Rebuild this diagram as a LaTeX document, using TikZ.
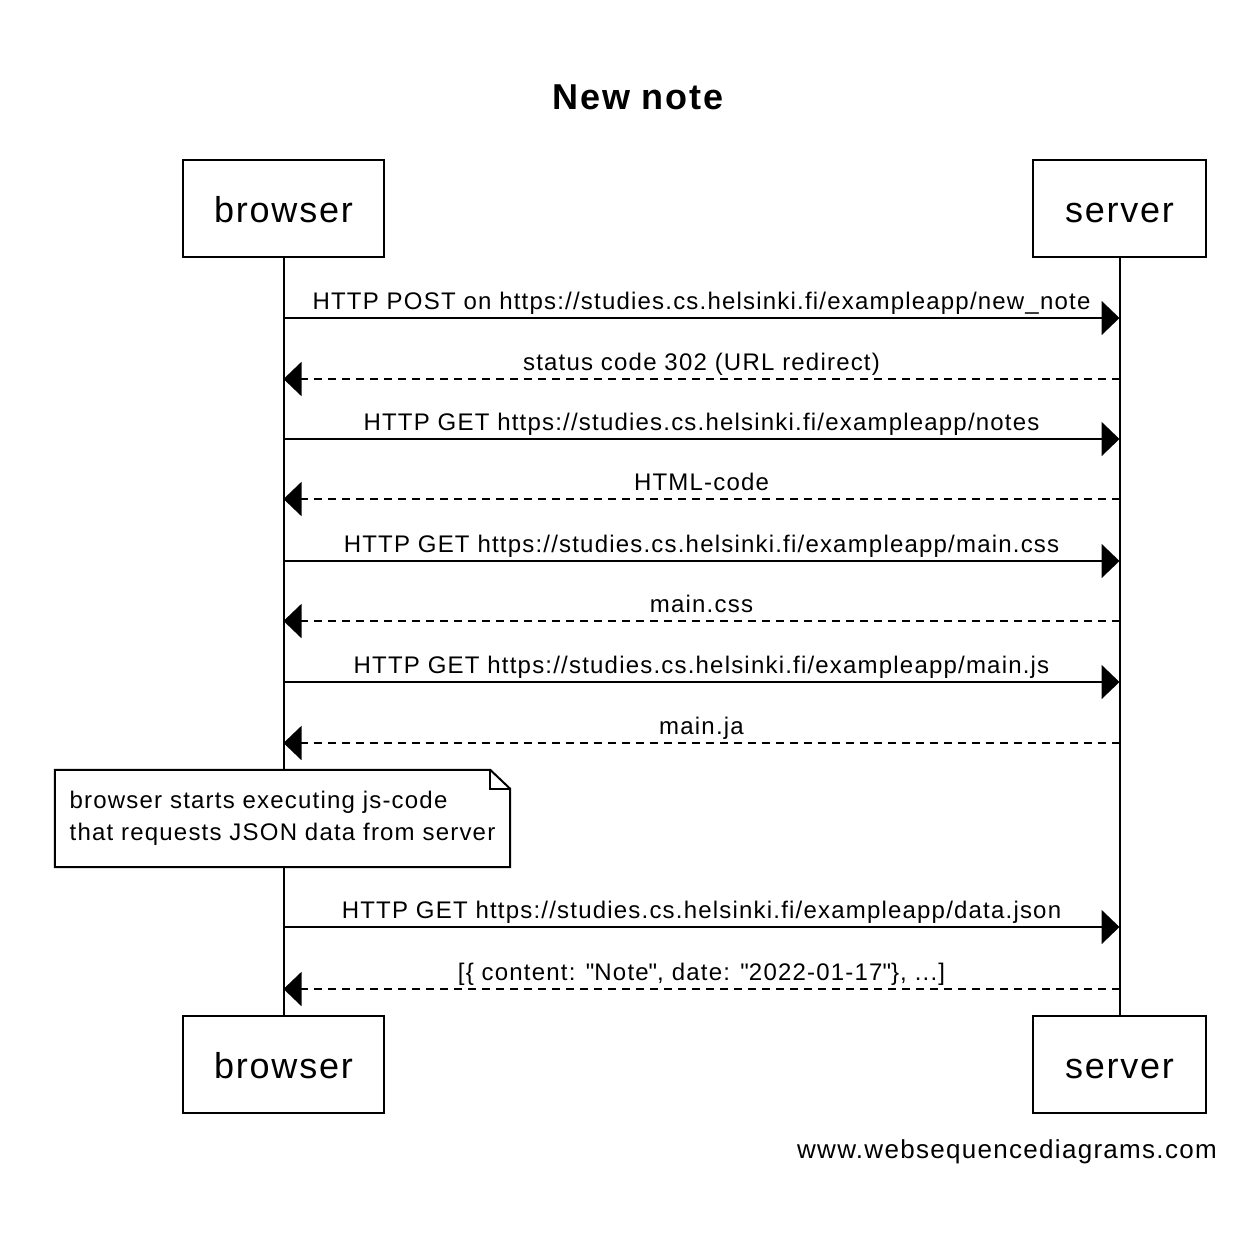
\documentclass[tikz,border=0pt]{standalone}
\usepackage{fontspec}
\setmainfont[LetterSpace=5]{Liberation Sans}
\usetikzlibrary{arrows.meta}

\tikzset{
  actor/.style={draw, line width=2pt, minimum height=97pt, inner sep=0pt, text height=27pt, text depth=0pt, font=\fontsize{36}{43}\selectfont},
  msg/.style={line width=2pt, -{Triangle[length=18pt,width=34pt]}},
  reply/.style={msg, dash pattern=on 8pt off 6pt},
  lbl/.style={midway, anchor=base, yshift=9pt, inner sep=0pt, font=\fontsize{24}{32}\selectfont},
  notebox/.style={minimum width=455pt, minimum height=97pt, align=left, font=\fontsize{24}{32}\selectfont},
}

\begin{document}
\begin{tikzpicture}[x=1pt,y=-1pt]
  \useasboundingbox (0,0) rectangle (1252,1240);

  \node[font=\bfseries\fontsize{36}{43}\selectfont] (title) at (638,97) {New note};

  % participants
  \node[actor, minimum width=201pt] (btop) at (283.5,208.5) {browser};
  \node[actor, minimum width=173pt] (stop) at (1119.5,208.5) {server};
  \node[actor, minimum width=201pt] (bbot) at (283.5,1064.5) {browser};
  \node[actor, minimum width=173pt] (sbot) at (1119.5,1064.5) {server};

  % note
  \node[notebox] (note) at (282.5,818.5) {browser starts executing js-code\\that requests JSON data from server};
  \draw[line width=2pt] (note.south west) -- (note.north west) -- ([xshift=-20pt]note.north east)
    -- ([yshift=-19pt]note.north east) -- (note.south east) -- cycle;
  \draw[line width=1.5pt] ([xshift=-20pt]note.north east) |- ([yshift=-19pt]note.north east);

  % lifelines
  \draw[line width=2pt] (btop.south) -- (btop.south |- note.north);
  \draw[line width=2pt] (btop.south |- note.south) -- (bbot.north);
  \draw[line width=2pt] (stop.south) -- (sbot.north);

  \foreach \i/\y in {1/318,2/379,3/439,4/499,5/561,6/621,7/682,8/743,9/927,10/989}{
    \coordinate (b\i) at (btop.south |- 0,\y);
    \coordinate (s\i) at (stop.south |- 0,\y);
  }

  % messages
  \draw[msg] (b1) -- node[lbl] (m1) {HTTP POST on https://studies.cs.helsinki.fi/exampleapp/new\_note} (s1);
  \draw[reply] (s2) -- node[lbl] (m2) {status code 302 (URL redirect)} (b2);
  \draw[msg] (b3) -- node[lbl] (m3) {HTTP GET https://studies.cs.helsinki.fi/exampleapp/notes} (s3);
  \draw[reply] (s4) -- node[lbl] (m4) {HTML-code} (b4);
  \draw[msg] (b5) -- node[lbl] (m5) {HTTP GET https://studies.cs.helsinki.fi/exampleapp/main.css} (s5);
  \draw[reply] (s6) -- node[lbl] (m6) {main.css} (b6);
  \draw[msg] (b7) -- node[lbl] (m7) {HTTP GET https://studies.cs.helsinki.fi/exampleapp/main.js} (s7);
  \draw[reply] (s8) -- node[lbl] (m8) {main.ja} (b8);
  \draw[msg] (b9) -- node[lbl] (m9) {HTTP GET https://studies.cs.helsinki.fi/exampleapp/data.json} (s9);
  \draw[reply] (s10) -- node[lbl] (m10) {[\{ content: \textquotedbl Note\textquotedbl, date: \textquotedbl 2022-01-17\textquotedbl\}, ...]} (b10);

  \node[anchor=base east, inner sep=0pt, font=\fontsize{26}{32}\selectfont] (wsd) at (1217,1158) {www.websequencediagrams.com};
\end{tikzpicture}
\end{document}
